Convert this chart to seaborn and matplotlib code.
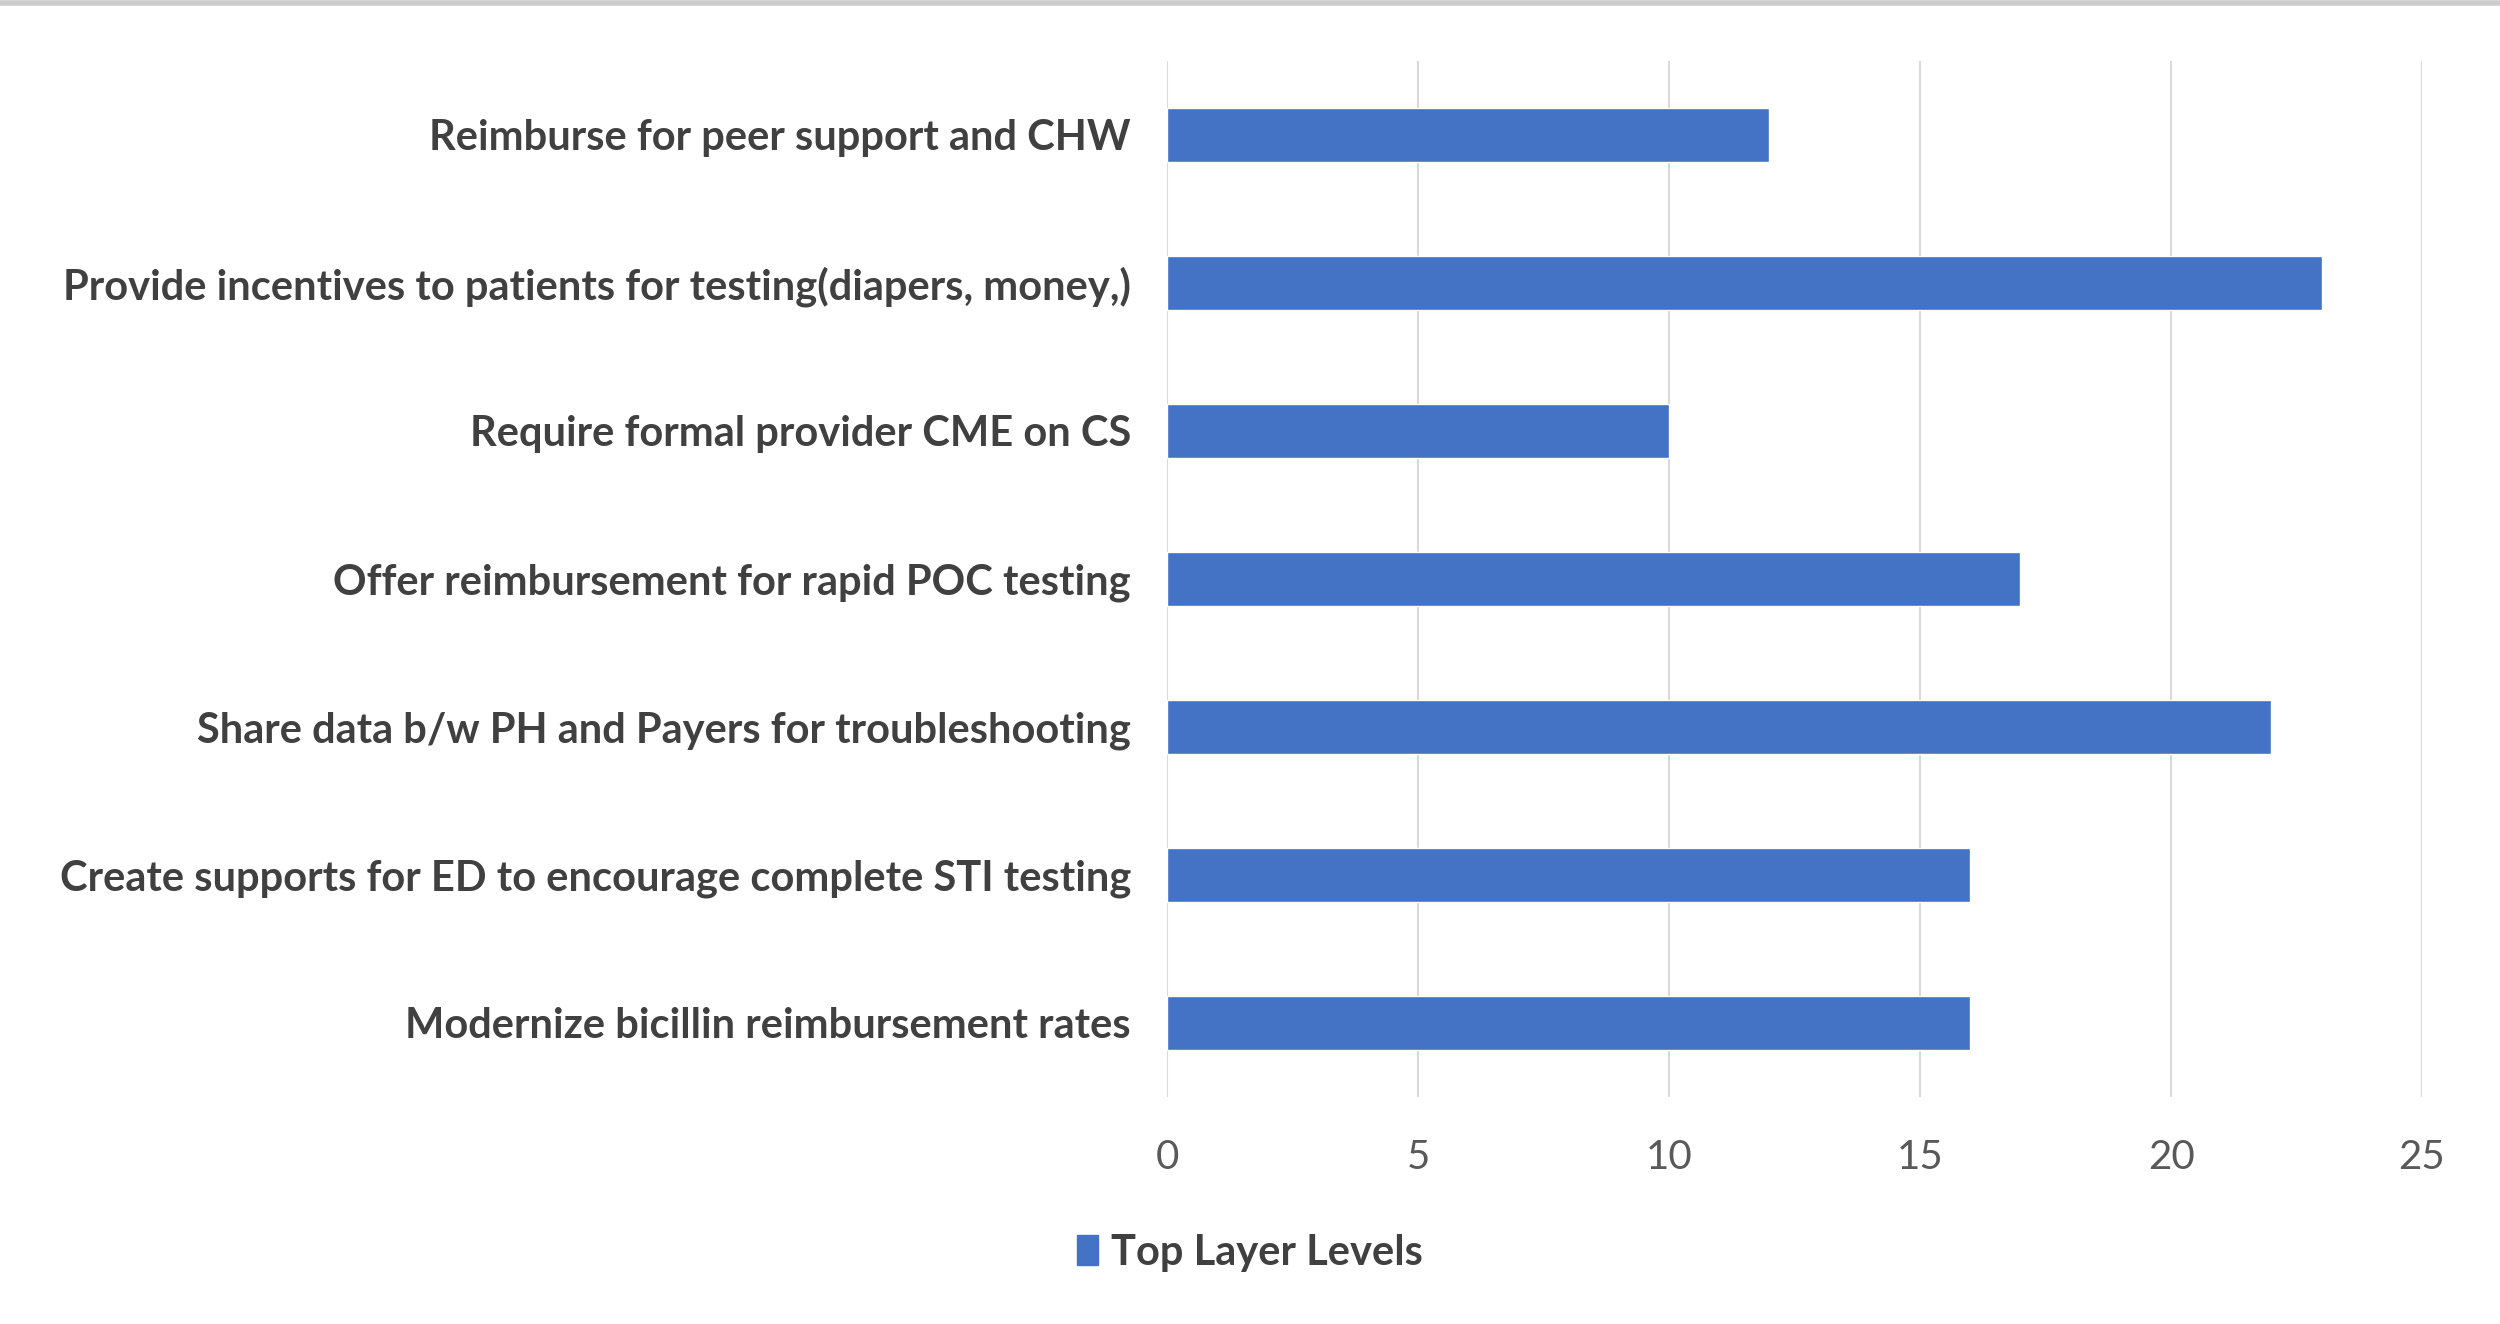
import seaborn as sns
import matplotlib.pyplot as plt
import matplotlib.lines as mlines
import pandas as pd

categories = [
    "Reimburse for peer support and CHW",
    "Provide incentives to patients for testing(diapers, money,)",
    "Require formal provider CME on CS",
    "Offer reimbursement for rapid POC testing",
    "Share data b/w PH and Payers for troubleshooting",
    "Create supports for ED to encourage complete STI testing",
    "Modernize bicillin reimbursement rates",
]
values = [12, 23, 10, 17, 22, 16, 16]
series_name = "Top Layer Levels"
ticks = [0, 5, 10, 15, 20, 25]

df = pd.DataFrame({"item": categories, "value": values, "series": series_name})

sns.set_style("white")
plt.rcParams['font.family'] = ['Lato', 'DejaVu Sans']

fig = plt.figure(figsize=(25, 13.24), dpi=100)
ax = fig.add_axes([0.4668, 0.1715, 0.502, 0.7825])

sns.barplot(data=df, x="value", y="item", hue="series", orient="h",
            palette=["#4472C4"], saturation=1, width=0.37, ax=ax, legend=False)

ax.set_xlim(0, 25)
ax.set_ylim(6.5, -0.5)
ax.set_xticks(ticks)
ax.xaxis.grid(True, color="#d9d9d9", lw=1.5)
ax.set_axisbelow(True)
for s in ax.spines.values():
    s.set_visible(False)
ax.set_xlabel("")
ax.set_ylabel("")
ax.tick_params(axis="x", length=0, pad=30, labelsize=29, labelcolor="#595959")
ax.tick_params(axis="y", length=0, pad=26, labelsize=30, labelcolor="#404040")
for lab in ax.get_yticklabels():
    lab.set_fontweight("bold")

handle = plt.Rectangle((0, 0), 1, 1, color="#4472C4")
fig.legend([handle], [series_name], loc="center", bbox_to_anchor=(0.5, 0.054),
           frameon=False, handlelength=0.5, handleheight=0.7,
           handletextpad=0.3, prop={"weight": "bold", "size": 30})
for t in fig.legends[0].get_texts():
    t.set_color("#404040")

fig.add_artist(mlines.Line2D([0, 1], [0.998, 0.998], color="#cccccc", lw=4,
                             transform=fig.transFigure))

fig.savefig("out.png", dpi=100, facecolor="white")
